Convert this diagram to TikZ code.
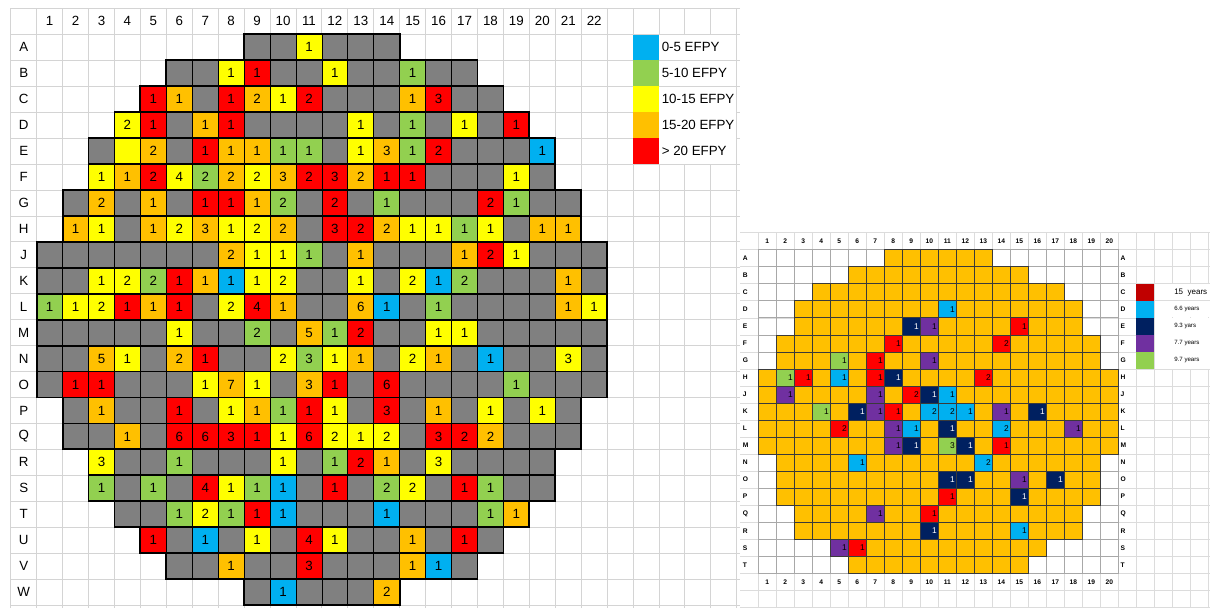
\documentclass[tikz,border=0pt]{standalone}
\usepackage{fontspec}
\setmainfont{Liberation Sans}
\definecolor{gridc}{HTML}{D4D4D4}
\definecolor{cG}{HTML}{808080}
\definecolor{cY}{HTML}{FFFF00}
\definecolor{cR}{HTML}{FF0000}
\definecolor{cO}{HTML}{FFC000}
\definecolor{cL}{HTML}{92D050}
\definecolor{cB}{HTML}{00B0F0}
\definecolor{rO}{HTML}{FFC000}
\definecolor{rR}{HTML}{FF0000}
\definecolor{rC}{HTML}{00B0F0}
\definecolor{rN}{HTML}{002060}
\definecolor{rP}{HTML}{7030A0}
\definecolor{rG}{HTML}{92D050}
\definecolor{rD}{HTML}{C00000}
\colorlet{tR}{black}\colorlet{tC}{black}\colorlet{tN}{white}\colorlet{tP}{black}\colorlet{tG}{black}
\definecolor{rgrid}{HTML}{DCDCDC}
\definecolor{rcell}{HTML}{A8A8A8}
\definecolor{rline}{HTML}{3A3A3A}
\tikzset{
  gl/.style={draw=gridc, line width=0.6},
  rgl/.style={draw=rgrid, line width=0.5},
  lnum/.style={font=\fontsize{10}{12}\selectfont, inner sep=0},
  rnum/.style={font=\fontsize{6.3}{7}\selectfont, inner sep=0, anchor=east},
  rhead/.style={font=\bfseries\fontsize{5}{6}\selectfont, inner sep=0},
  outl/.style={draw=black, line width=1.4},
}
\newcommand\lrow[4]{%
  \foreach \c/\n [count=\k from #2] in {#4}{%
    \path[fill=c\c,draw=black,line width=0.6]
      ({36.7+(\k-1)*25.93},{34.2+#1*25.95}) rectangle ++(25.93,25.95);
    \ifnum\n>0
      \node[lnum] at ({36.7+(\k-0.5)*25.93},{34.2+(#1+0.5)*25.95}) {\n};
    \fi
  }%
}
\newcommand\rrow[3]{%
  \foreach \k in {#2,...,#3}{%
    \path[fill=rO,draw=rline,line width=0.5]
      ({758.3+(\k-1)*18},{249.7+#1*17.03}) rectangle ++(18,17.03);
  }%
}
\begin{document}
\begin{tikzpicture}[x=0.75pt,y=-0.75pt]
\useasboundingbox (0,0) rectangle (1210,608);
\fill[white] (0,0) rectangle (1210,608);

% ---------- left sheet gridlines
\foreach \i in {0,...,28} \draw[gl] ({10.7+\i*25.93},8.3) -- ({10.7+\i*25.93},608);
\foreach \j in {0,...,23} \draw[gl] (10.7,{8.3+\j*25.95}) -- (740,{8.3+\j*25.95});

% headers
\foreach \k in {1,...,22} \node[lnum] at ({36.7+(\k-0.5)*25.93},21.2) {\k};
\foreach \L [count=\r from 0] in {A,B,C,D,E,F,G,H,J,K,L,M,N,O,P,Q,R,S,T,U,V,W}
  \node[lnum] at (23.7,{34.2+(\r+0.5)*25.95}) {\L};

% ---------- left grid cells
\lrow{0}{9}{14}{G/0,G/0,Y/1,G/0,G/0,G/0}
\lrow{1}{6}{17}{G/0,G/0,Y/1,R/1,G/0,G/0,Y/1,G/0,G/0,L/1,G/0,G/0}
\lrow{2}{5}{18}{R/1,O/1,G/0,R/1,O/2,Y/1,R/2,G/0,G/0,G/0,O/1,R/3,G/0,G/0}
\lrow{3}{4}{19}{Y/2,R/1,G/0,O/1,R/1,G/0,G/0,G/0,G/0,Y/1,G/0,L/1,G/0,Y/1,G/0,R/1}
\lrow{4}{3}{20}{G/0,Y/0,O/2,G/0,R/1,O/1,O/1,L/1,L/1,G/0,Y/1,O/3,L/1,R/2,G/0,G/0,G/0,B/1}
\lrow{5}{3}{20}{Y/1,O/1,R/2,Y/4,L/2,O/2,Y/2,O/3,R/2,R/3,O/2,R/1,R/1,G/0,G/0,G/0,Y/1,G/0}
\lrow{6}{2}{21}{G/0,O/2,G/0,O/1,G/0,R/1,R/1,O/1,L/2,G/0,R/2,G/0,L/1,G/0,G/0,G/0,R/2,L/1,G/0,G/0}
\lrow{7}{2}{21}{O/1,Y/1,G/0,O/1,Y/2,O/3,Y/1,Y/2,O/2,G/0,R/3,R/2,O/2,Y/1,Y/1,L/1,Y/1,G/0,O/1,O/1}
\lrow{8}{1}{22}{G/0,G/0,G/0,G/0,G/0,G/0,G/0,O/2,Y/1,Y/1,L/1,G/0,O/1,G/0,G/0,G/0,O/1,R/2,Y/1,G/0,G/0,G/0}
\lrow{9}{1}{22}{G/0,G/0,Y/1,Y/2,L/2,R/1,O/1,B/1,Y/1,Y/2,G/0,G/0,Y/1,G/0,Y/2,B/1,L/2,G/0,G/0,G/0,O/1,G/0}
\lrow{10}{1}{22}{L/1,Y/1,Y/2,R/1,O/1,R/1,G/0,Y/2,R/4,O/1,G/0,G/0,O/6,B/1,G/0,L/1,G/0,G/0,G/0,G/0,O/1,Y/1}
\lrow{11}{1}{22}{G/0,G/0,G/0,G/0,G/0,Y/1,G/0,G/0,L/2,G/0,O/5,L/1,R/2,G/0,G/0,Y/1,Y/1,G/0,G/0,G/0,G/0,G/0}
\lrow{12}{1}{22}{G/0,G/0,O/5,Y/1,G/0,O/2,R/1,G/0,G/0,Y/2,L/3,Y/1,O/1,G/0,Y/2,O/1,G/0,B/1,G/0,G/0,Y/3,G/0}
\lrow{13}{1}{22}{G/0,R/1,R/1,G/0,G/0,G/0,Y/1,O/7,Y/1,G/0,O/3,R/1,G/0,R/6,G/0,G/0,G/0,G/0,L/1,G/0,G/0,G/0}
\lrow{14}{2}{21}{G/0,O/1,G/0,G/0,R/1,G/0,Y/1,O/1,L/1,R/1,Y/1,G/0,R/3,G/0,O/1,G/0,Y/1,G/0,Y/1,G/0}
\lrow{15}{2}{21}{G/0,G/0,O/1,G/0,R/6,R/6,R/3,R/1,Y/1,R/6,Y/2,Y/1,Y/2,G/0,R/3,R/2,O/2,G/0,G/0,G/0}
\lrow{16}{3}{20}{Y/3,G/0,G/0,L/1,G/0,G/0,G/0,Y/1,G/0,L/1,R/2,O/1,G/0,Y/3,G/0,G/0,G/0,G/0}
\lrow{17}{3}{20}{L/1,G/0,L/1,G/0,R/4,Y/1,L/1,B/1,G/0,R/1,G/0,L/2,Y/2,G/0,R/1,L/1,G/0,G/0}
\lrow{18}{4}{19}{G/0,G/0,L/1,Y/2,L/1,R/1,B/1,G/0,G/0,G/0,B/1,G/0,G/0,G/0,L/1,O/1}
\lrow{19}{5}{18}{R/1,G/0,B/1,G/0,Y/1,G/0,R/4,Y/1,G/0,G/0,O/1,G/0,R/1,G/0}
\lrow{20}{6}{17}{G/0,G/0,O/1,G/0,G/0,R/3,G/0,G/0,G/0,O/1,B/1,G/0}
\lrow{21}{9}{14}{G/0,B/1,G/0,G/0,G/0,O/2}
% row outlines
\foreach \r/\s/\e in {0/9/14,1/6/17,2/5/18,3/4/19,4/3/20,5/3/20,6/2/21,7/2/21,8/1/22,9/1/22,10/1/22,11/1/22,12/1/22,13/1/22,14/2/21,15/2/21,16/3/20,17/3/20,18/4/19,19/5/18,20/6/17,21/9/14}
  \draw[outl] ({36.7+(\s-1)*25.93},{34.2+\r*25.95}) rectangle ({36.7+\e*25.93},{34.2+(\r+1)*25.95});

% ---------- left legend
\foreach \c/\t [count=\r from 0] in {B/0-5 EFPY,L/5-10 EFPY,Y/10-15 EFPY,O/15-20 EFPY,R/> 20 EFPY}{
  \fill[c\c] (633.1,{34.2+\r*25.95+0.3}) rectangle (659.0,{34.2+(\r+1)*25.95-0.3});
  \fill[white] (659.4,{34.2+\r*25.95+0.4}) rectangle (736.3,{34.2+(\r+1)*25.95-0.4});
  \node[lnum,anchor=west] at (661.5,{34.2+(\r+0.5)*25.95}) {\t};
}

% ---------- right picture
\fill[white] (740,230) rectangle (1210,608);
\foreach \i in {0,...,25} \draw[rgl] ({758.3+\i*18},232.7) -- ({758.3+\i*18},608);
\foreach \j in {0,...,22} \draw[rgl] (740,{232.7+\j*17.03}) -- (1210,{232.7+\j*17.03});
% grid of 20 x 19 cells
\foreach \r in {0,...,18} \foreach \k in {1,...,20}
  \draw[draw=rcell,line width=0.5] ({758.3+(\k-1)*18},{249.7+\r*17.03}) rectangle ++(18,17.03);
\rrow{0}{8}{13}
\rrow{1}{6}{15}
\rrow{2}{4}{17}
\rrow{3}{3}{18}
\rrow{4}{3}{18}
\rrow{5}{2}{19}
\rrow{6}{2}{19}
\rrow{7}{1}{20}
\rrow{8}{1}{20}
\rrow{9}{1}{20}
\rrow{10}{1}{20}
\rrow{11}{1}{20}
\rrow{12}{2}{19}
\rrow{13}{2}{19}
\rrow{14}{2}{19}
\rrow{15}{3}{18}
\rrow{16}{3}{18}
\rrow{17}{5}{16}
\rrow{18}{6}{15}
\foreach \r/\k/\c/\n in {3/11/C/1,
  4/9/N/1,4/10/P/1,4/15/R/1,
  5/8/R/1,5/14/R/2,
  6/5/G/1,6/7/R/1,6/10/P/1,
  7/2/G/1,7/3/R/1,7/5/C/1,7/7/R/1,7/8/N/1,7/13/R/2,
  8/2/P/1,8/7/P/1,8/9/R/2,8/10/N/1,8/11/C/1,
  9/4/G/1,9/6/N/1,9/7/P/1,9/8/R/1,9/10/C/2,9/11/C/2,9/12/C/1,9/14/P/1,9/16/N/1,
  10/5/R/2,10/8/P/1,10/9/C/1,10/11/N/1,10/14/C/2,10/18/P/1,
  11/8/P/1,11/9/N/1,11/11/G/3,11/12/N/1,11/14/R/1,
  12/6/C/1,12/13/C/2,
  13/11/N/1,13/12/N/1,13/15/P/1,13/17/N/1,
  14/11/R/1,14/15/N/1,
  15/7/P/1,15/10/R/1,
  16/10/N/1,16/15/C/1,
  17/5/P/1,17/6/R/1}{
  \path[fill=r\c,draw=rline,line width=0.5] ({758.3+(\k-1)*18},{249.7+\r*17.03}) rectangle ++(18,17.03);
  \node[rnum,text=t\c] at ({758.3+\k*18-1.3},{249.7+(\r+0.5)*17.03}) {\n};
}
% right headers
\foreach \k in {1,...,20}{
  \node[rhead] at ({758.3+(\k-0.5)*18},241.2) {\k};
  \node[rhead] at ({758.3+(\k-0.5)*18},581.8) {\k};
}
\foreach \L [count=\r from 0] in {A,B,C,D,E,F,G,H,J,K,L,M,N,O,P,Q,R,S,T}{
  \node[rhead,anchor=west] at (742.5,{249.7+(\r+0.5)*17.03}) {\L};
  \node[rhead,anchor=west] at (1120.3,{249.7+(\r+0.5)*17.03}) {\L};
}
% right legend
\foreach \c/\t/\s [count=\r from 2] in {D/15\ \ years/6,C/6.6 years/4.6,N/9.3 yars/4.6,P/7.7 years/4.6,G/9.7 years/4.6}{
  \fill[r\c] (1136.3,{249.7+\r*17.03}) rectangle (1154.3,{249.7+(\r+1)*17.03});
  \fill[white] (1154.7,{249.7+\r*17.03+0.35}) rectangle (1210,{249.7+(\r+1)*17.03-0.35});
  \node[anchor=west,inner sep=0,font=\fontsize{\s}{\s}\selectfont] at (1174,{249.7+(\r+0.5)*17.03}) {\t};
}
\end{tikzpicture}
\end{document}
